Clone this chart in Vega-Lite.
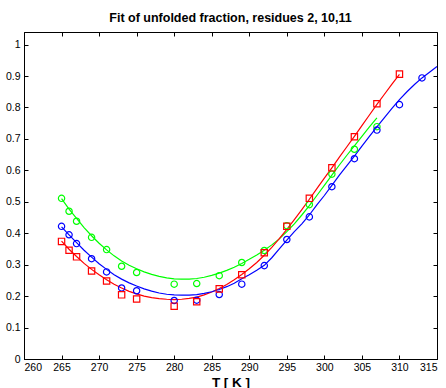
{
  "$schema": "https://vega.github.io/schema/vega-lite/v6.json",
  "width": 413,
  "height": 327,
  "autosize": {"type": "none"},
  "padding": {"left": 24, "top": 32, "right": 9, "bottom": 29},
  "background": "white",
  "title": {"text": "Fit of unfolded fraction, residues 2, 10,11", "font": "Liberation Sans", "fontSize": 12.5, "fontWeight": "bold", "color": "black", "offset": 7, "anchor": "middle"},
  "config": {
    "view": {"stroke": "black", "strokeWidth": 1},
    "axis": {"grid": false, "domainColor": "black", "tickColor": "black", "tickSize": -4, "labelFont": "Liberation Sans", "labelFontSize": 10.5, "labelColor": "black", "titleFont": "Liberation Sans", "titleFontSize": 13.5, "titleFontWeight": "bold", "titleColor": "black"}
  },
  "resolve": {"axis": {"x": "independent", "y": "independent"}},
  "datasets": {
    "pts": [
      {"series": "green", "T": 265, "f": 0.511}, {"series": "green", "T": 266, "f": 0.470}, {"series": "green", "T": 267, "f": 0.438}, {"series": "green", "T": 269, "f": 0.387}, {"series": "green", "T": 271, "f": 0.348}, {"series": "green", "T": 273, "f": 0.295}, {"series": "green", "T": 275, "f": 0.275}, {"series": "green", "T": 280, "f": 0.238}, {"series": "green", "T": 283, "f": 0.240}, {"series": "green", "T": 286, "f": 0.265}, {"series": "green", "T": 289, "f": 0.307}, {"series": "green", "T": 292, "f": 0.345}, {"series": "green", "T": 295, "f": 0.424}, {"series": "green", "T": 298, "f": 0.491}, {"series": "green", "T": 301, "f": 0.588}, {"series": "green", "T": 304, "f": 0.667}, {"series": "green", "T": 307, "f": 0.739},
      {"series": "blue", "T": 265, "f": 0.422}, {"series": "blue", "T": 266, "f": 0.395}, {"series": "blue", "T": 267, "f": 0.367}, {"series": "blue", "T": 269, "f": 0.319}, {"series": "blue", "T": 271, "f": 0.277}, {"series": "blue", "T": 273, "f": 0.226}, {"series": "blue", "T": 275, "f": 0.217}, {"series": "blue", "T": 280, "f": 0.186}, {"series": "blue", "T": 283, "f": 0.187}, {"series": "blue", "T": 286, "f": 0.205}, {"series": "blue", "T": 289, "f": 0.238}, {"series": "blue", "T": 292, "f": 0.297}, {"series": "blue", "T": 295, "f": 0.380}, {"series": "blue", "T": 298, "f": 0.452}, {"series": "blue", "T": 301, "f": 0.548}, {"series": "blue", "T": 304, "f": 0.637}, {"series": "blue", "T": 307, "f": 0.728}, {"series": "blue", "T": 310, "f": 0.809}, {"series": "blue", "T": 313, "f": 0.894},
      {"series": "red", "T": 265, "f": 0.374}, {"series": "red", "T": 266, "f": 0.346}, {"series": "red", "T": 267, "f": 0.325}, {"series": "red", "T": 269, "f": 0.280}, {"series": "red", "T": 271, "f": 0.248}, {"series": "red", "T": 273, "f": 0.204}, {"series": "red", "T": 275, "f": 0.191}, {"series": "red", "T": 280, "f": 0.168}, {"series": "red", "T": 283, "f": 0.182}, {"series": "red", "T": 286, "f": 0.223}, {"series": "red", "T": 289, "f": 0.268}, {"series": "red", "T": 292, "f": 0.338}, {"series": "red", "T": 295, "f": 0.422}, {"series": "red", "T": 298, "f": 0.511}, {"series": "red", "T": 301, "f": 0.608}, {"series": "red", "T": 304, "f": 0.707}, {"series": "red", "T": 307, "f": 0.812}, {"series": "red", "T": 310, "f": 0.906}
    ],
    "fit": [
      {"series": "green", "T": 265, "f": 0.51}, {"series": "green", "T": 266, "f": 0.477}, {"series": "green", "T": 267, "f": 0.447}, {"series": "green", "T": 268, "f": 0.418}, {"series": "green", "T": 269, "f": 0.392}, {"series": "green", "T": 270, "f": 0.368}, {"series": "green", "T": 271, "f": 0.347}, {"series": "green", "T": 272, "f": 0.328}, {"series": "green", "T": 273, "f": 0.312}, {"series": "green", "T": 274, "f": 0.298}, {"series": "green", "T": 275, "f": 0.287}, {"series": "green", "T": 276, "f": 0.277}, {"series": "green", "T": 277, "f": 0.269}, {"series": "green", "T": 278, "f": 0.263}, {"series": "green", "T": 279, "f": 0.258}, {"series": "green", "T": 280, "f": 0.255}, {"series": "green", "T": 281, "f": 0.254}, {"series": "green", "T": 282, "f": 0.254}, {"series": "green", "T": 283, "f": 0.256}, {"series": "green", "T": 284, "f": 0.26}, {"series": "green", "T": 285, "f": 0.266}, {"series": "green", "T": 286, "f": 0.273}, {"series": "green", "T": 287, "f": 0.282}, {"series": "green", "T": 288, "f": 0.292}, {"series": "green", "T": 289, "f": 0.304}, {"series": "green", "T": 290, "f": 0.317}, {"series": "green", "T": 291, "f": 0.331}, {"series": "green", "T": 292, "f": 0.346}, {"series": "green", "T": 293, "f": 0.363}, {"series": "green", "T": 294, "f": 0.382}, {"series": "green", "T": 295, "f": 0.405}, {"series": "green", "T": 296, "f": 0.43}, {"series": "green", "T": 297, "f": 0.458}, {"series": "green", "T": 298, "f": 0.488}, {"series": "green", "T": 299, "f": 0.52}, {"series": "green", "T": 300, "f": 0.552}, {"series": "green", "T": 301, "f": 0.585}, {"series": "green", "T": 302, "f": 0.617}, {"series": "green", "T": 303, "f": 0.648}, {"series": "green", "T": 304, "f": 0.678}, {"series": "green", "T": 305, "f": 0.708}, {"series": "green", "T": 306, "f": 0.738}, {"series": "green", "T": 307, "f": 0.767},
      {"series": "red", "T": 265, "f": 0.375}, {"series": "red", "T": 266, "f": 0.349}, {"series": "red", "T": 267, "f": 0.326}, {"series": "red", "T": 268, "f": 0.304}, {"series": "red", "T": 269, "f": 0.285}, {"series": "red", "T": 270, "f": 0.268}, {"series": "red", "T": 271, "f": 0.252}, {"series": "red", "T": 272, "f": 0.238}, {"series": "red", "T": 273, "f": 0.226}, {"series": "red", "T": 274, "f": 0.215}, {"series": "red", "T": 275, "f": 0.207}, {"series": "red", "T": 276, "f": 0.2}, {"series": "red", "T": 277, "f": 0.195}, {"series": "red", "T": 278, "f": 0.192}, {"series": "red", "T": 279, "f": 0.19}, {"series": "red", "T": 280, "f": 0.189}, {"series": "red", "T": 281, "f": 0.19}, {"series": "red", "T": 282, "f": 0.193}, {"series": "red", "T": 283, "f": 0.197}, {"series": "red", "T": 284, "f": 0.204}, {"series": "red", "T": 285, "f": 0.213}, {"series": "red", "T": 286, "f": 0.224}, {"series": "red", "T": 287, "f": 0.237}, {"series": "red", "T": 288, "f": 0.252}, {"series": "red", "T": 289, "f": 0.269}, {"series": "red", "T": 290, "f": 0.287}, {"series": "red", "T": 291, "f": 0.307}, {"series": "red", "T": 292, "f": 0.33}, {"series": "red", "T": 293, "f": 0.355}, {"series": "red", "T": 294, "f": 0.383}, {"series": "red", "T": 295, "f": 0.412}, {"series": "red", "T": 296, "f": 0.443}, {"series": "red", "T": 297, "f": 0.475}, {"series": "red", "T": 298, "f": 0.508}, {"series": "red", "T": 299, "f": 0.542}, {"series": "red", "T": 300, "f": 0.575}, {"series": "red", "T": 301, "f": 0.608}, {"series": "red", "T": 302, "f": 0.642}, {"series": "red", "T": 303, "f": 0.675}, {"series": "red", "T": 304, "f": 0.708}, {"series": "red", "T": 305, "f": 0.742}, {"series": "red", "T": 306, "f": 0.776}, {"series": "red", "T": 307, "f": 0.81}, {"series": "red", "T": 308, "f": 0.842}, {"series": "red", "T": 309, "f": 0.874}, {"series": "red", "T": 310, "f": 0.905},
      {"series": "blue", "T": 265, "f": 0.42}, {"series": "blue", "T": 266, "f": 0.395}, {"series": "blue", "T": 267, "f": 0.37}, {"series": "blue", "T": 268, "f": 0.346}, {"series": "blue", "T": 269, "f": 0.324}, {"series": "blue", "T": 270, "f": 0.303}, {"series": "blue", "T": 271, "f": 0.285}, {"series": "blue", "T": 272, "f": 0.268}, {"series": "blue", "T": 273, "f": 0.254}, {"series": "blue", "T": 274, "f": 0.242}, {"series": "blue", "T": 275, "f": 0.232}, {"series": "blue", "T": 276, "f": 0.223}, {"series": "blue", "T": 277, "f": 0.216}, {"series": "blue", "T": 278, "f": 0.21}, {"series": "blue", "T": 279, "f": 0.206}, {"series": "blue", "T": 280, "f": 0.204}, {"series": "blue", "T": 281, "f": 0.203}, {"series": "blue", "T": 282, "f": 0.203}, {"series": "blue", "T": 283, "f": 0.205}, {"series": "blue", "T": 284, "f": 0.209}, {"series": "blue", "T": 285, "f": 0.214}, {"series": "blue", "T": 286, "f": 0.221}, {"series": "blue", "T": 287, "f": 0.23}, {"series": "blue", "T": 288, "f": 0.241}, {"series": "blue", "T": 289, "f": 0.255}, {"series": "blue", "T": 290, "f": 0.268}, {"series": "blue", "T": 291, "f": 0.282}, {"series": "blue", "T": 292, "f": 0.298}, {"series": "blue", "T": 293, "f": 0.322}, {"series": "blue", "T": 294, "f": 0.35}, {"series": "blue", "T": 295, "f": 0.378}, {"series": "blue", "T": 296, "f": 0.405}, {"series": "blue", "T": 297, "f": 0.43}, {"series": "blue", "T": 298, "f": 0.458}, {"series": "blue", "T": 299, "f": 0.49}, {"series": "blue", "T": 300, "f": 0.52}, {"series": "blue", "T": 301, "f": 0.552}, {"series": "blue", "T": 302, "f": 0.585}, {"series": "blue", "T": 303, "f": 0.615}, {"series": "blue", "T": 304, "f": 0.645}, {"series": "blue", "T": 305, "f": 0.677}, {"series": "blue", "T": 306, "f": 0.708}, {"series": "blue", "T": 307, "f": 0.738}, {"series": "blue", "T": 308, "f": 0.768}, {"series": "blue", "T": 309, "f": 0.797}, {"series": "blue", "T": 310, "f": 0.825}, {"series": "blue", "T": 311, "f": 0.85}, {"series": "blue", "T": 312, "f": 0.873}, {"series": "blue", "T": 313, "f": 0.894}, {"series": "blue", "T": 314, "f": 0.912}, {"series": "blue", "T": 315, "f": 0.93}
    ]
  },
  "layer": [
    {
      "data": {"name": "fit"},
      "mark": {"type": "line", "strokeWidth": 1.2, "clip": true},
      "encoding": {
        "x": {"field": "T", "type": "quantitative", "scale": {"domain": [260, 315], "nice": false, "zero": false}, "axis": {"orient": "bottom", "values": [260, 265, 270, 275, 280, 285, 290, 295, 300, 305, 310, 315], "title": "T [ K ]", "labelPadding": 7, "titlePadding": 3}},
        "y": {"field": "f", "type": "quantitative", "scale": {"domain": [0, 1.04], "nice": false}, "axis": {"orient": "left", "values": [0, 0.1, 0.2, 0.3, 0.4, 0.5, 0.6, 0.7, 0.8, 0.9, 1], "format": ".1~f", "title": null, "labelPadding": 8}},
        "color": {"field": "series", "type": "nominal", "scale": {"domain": ["blue", "green", "red"], "range": ["#0000ff", "#00ff00", "#ff0000"]}, "legend": null},
        "detail": {"field": "series"}
      }
    },
    {
      "data": {"name": "pts"},
      "mark": {"type": "point", "filled": false, "strokeWidth": 1.2, "opacity": 1},
      "encoding": {
        "x": {"field": "T", "type": "quantitative", "axis": {"orient": "top", "values": [260, 265, 270, 275, 280, 285, 290, 295, 300, 305, 310, 315], "labels": false, "title": null, "domain": false}},
        "y": {"field": "f", "type": "quantitative", "axis": {"orient": "right", "values": [0, 0.1, 0.2, 0.3, 0.4, 0.5, 0.6, 0.7, 0.8, 0.9, 1], "labels": false, "title": null, "domain": false}},
        "color": {"field": "series", "type": "nominal", "legend": null},
        "shape": {"field": "series", "type": "nominal", "scale": {"domain": ["blue", "green", "red"], "range": ["circle", "circle", "square"]}, "legend": null},
        "size": {"value": 40}
      }
    }
  ]
}
